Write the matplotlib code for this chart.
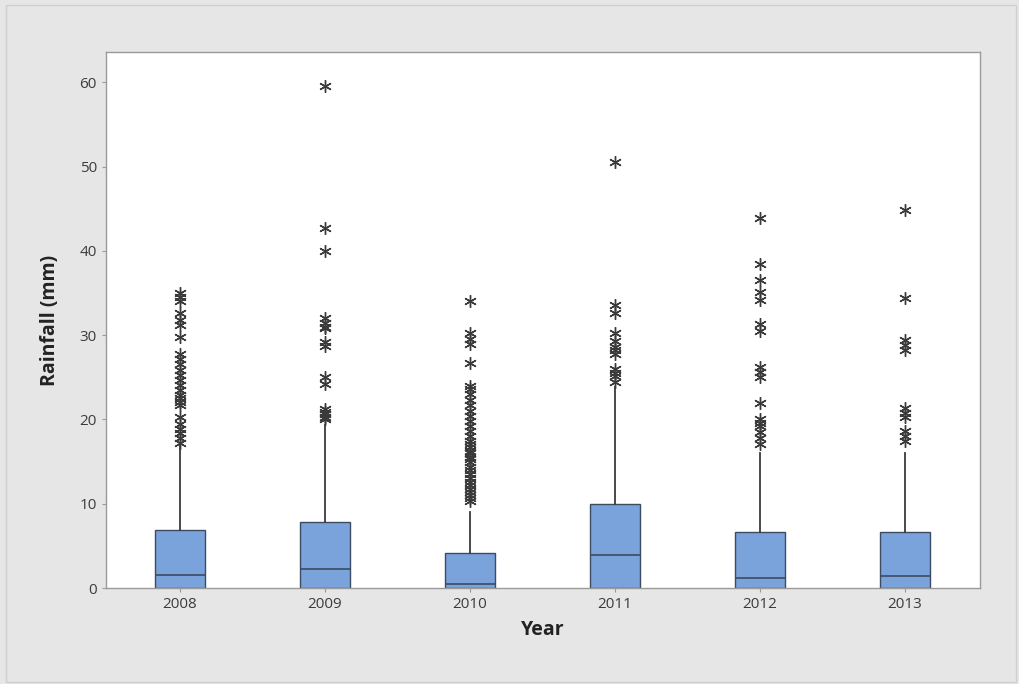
import matplotlib.pyplot as plt
from matplotlib.patches import Rectangle

plt.rcParams['font.family'] = ['Open Sans', 'DejaVu Sans']

# Box summaries per year (mm)
years = ['2008', '2009', '2010', '2011', '2012', '2013']
q1 = [0.0, 0.0, 0.0, 0.0, 0.0, 0.0]
medians = [1.5, 2.3, 0.5, 3.9, 1.2, 1.4]
q3 = [6.9, 7.8, 4.1, 10.0, 6.7, 6.7]
whisk_hi = [16.8, 19.3, 9.0, 23.8, 16.0, 16.0]

# Outlying daily rainfall values
out_2008 = [35.0, 34.5, 34.0, 32.6, 31.8, 31.2, 29.8, 27.8, 27.2, 26.6, 25.9, 25.3,
            24.7, 24.1, 23.5, 22.9, 22.5, 22.1, 21.7, 20.3, 19.5, 18.9, 18.4, 17.8, 17.2]
out_2009 = [59.6, 42.7, 40.0, 32.0, 31.5, 31.0, 30.8, 29.2, 28.7, 25.0, 24.2,
            21.2, 20.9, 20.6, 20.3, 20.0]
out_2010 = [34.1, 30.2, 29.6, 28.9, 26.7, 24.0, 23.6, 23.0, 22.3, 21.7, 21.0, 20.4,
            19.8, 19.2, 18.6, 18.0, 17.5, 17.1, 16.7, 16.3, 16.0, 15.6, 15.3, 14.9,
            14.4, 14.0, 13.5, 13.0, 12.6, 12.2, 11.8, 11.4, 11.0, 10.7, 10.3]
out_2011 = [50.6, 33.6, 32.6, 30.2, 29.3, 28.6, 28.2, 27.8, 26.0, 25.5, 25.1, 24.5]
out_2012 = [43.9, 38.5, 36.6, 35.1, 34.2, 31.3, 30.5, 26.2, 25.6, 25.0, 21.9,
            20.0, 19.6, 19.2, 18.5, 17.8, 17.1]
out_2013 = [44.9, 34.4, 29.4, 28.8, 28.2, 21.3, 20.8, 20.3, 18.6, 18.0, 17.4]
outliers = [out_2008, out_2009, out_2010, out_2011, out_2012, out_2013]

fig = plt.figure(figsize=(10.2, 6.84), dpi=100, facecolor='#e6e6e6')
fig.patches.append(Rectangle((6 / 1020, 2 / 684), 1010 / 1020, 677 / 684,
                             transform=fig.transFigure, fill=False,
                             edgecolor='#cfcfcf', linewidth=1.0))
ax = fig.add_axes([106 / 1020, 96 / 684, 874 / 1020, 536 / 684])

stats = []
for i in range(len(years)):
    stats.append({'label': years[i], 'q1': q1[i], 'med': medians[i], 'q3': q3[i],
                  'whislo': q1[i], 'whishi': whisk_hi[i], 'fliers': outliers[i]})

ax.bxp(stats, positions=range(1, 7), widths=0.345, patch_artist=True,
       showcaps=False,
       boxprops=dict(facecolor='#7ba3db', edgecolor='#3d4b61', linewidth=1.0),
       medianprops=dict(color='#3d4b61', linewidth=1.2),
       whiskerprops=dict(color='#3a3a3a', linewidth=1.3),
       flierprops=dict(marker=(6, 2, 0), markersize=9, markeredgecolor='#3a3a3a',
                       markeredgewidth=1.0, linestyle='none'))

ax.set_xlim(0.49, 6.52)
ax.set_ylim(0, 63.6)
ax.set_yticks([0, 10, 20, 30, 40, 50, 60])
ax.set_facecolor('white')
for s in ax.spines.values():
    s.set_color('#9a9a9a')
    s.set_linewidth(1.0)
ax.tick_params(axis='both', colors='#9a9a9a', length=3, width=0.8,
               labelcolor='#3c3c3c', labelsize=11)
ax.set_xlabel('Year', fontsize=14, fontweight='bold', color='#222222', labelpad=6)
ax.set_ylabel('Rainfall (mm)', fontsize=14, fontweight='bold', color='#222222', labelpad=14)

fig.savefig('out.png', dpi=100, facecolor=fig.get_facecolor())
